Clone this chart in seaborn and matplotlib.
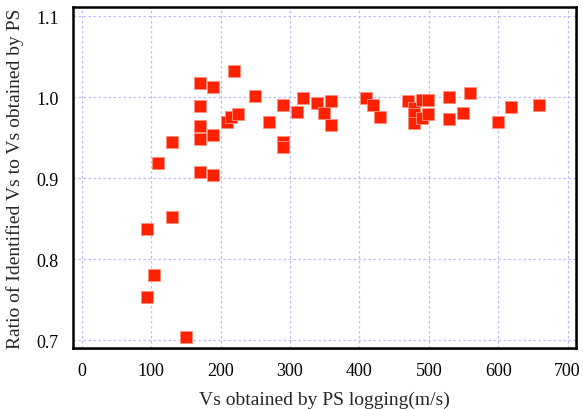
import matplotlib
matplotlib.use("Agg")
import matplotlib.pyplot as plt
import seaborn as sns
import pandas as pd
from matplotlib.patches import Rectangle

vs_ps = [109.5, 129.7, 170, 189.7, 170, 170, 170, 189.7, 170, 189.7,
         220, 209.8, 215.6, 224.8, 249.7, 269.4, 290, 290, 290, 309.8,
         319.3, 339, 349, 359.7, 359.7, 409.7, 419.3, 429.8, 469.7, 479.3,
         479.3, 479.3, 489.9, 499.4, 489.9, 499.4, 529.3, 529.3, 549, 559.5,
         599.4, 619, 659.4, 129.7, 94.5, 104.6, 93.7, 149.9]
ratio = [0.919, 0.945, 1.017, 1.012, 0.989, 0.964, 0.948, 0.953, 0.907, 0.904,
         1.032, 0.969, 0.976, 0.979, 1.001, 0.969, 0.990, 0.945, 0.938, 0.982,
         0.999, 0.993, 0.980, 0.995, 0.966, 0.999, 0.990, 0.976, 0.995, 0.986,
         0.979, 0.968, 0.996, 0.996, 0.974, 0.979, 1.000, 0.973, 0.980, 1.005,
         0.969, 0.988, 0.990, 0.852, 0.837, 0.781, 0.753, 0.704]

x_ticks = [0, 100, 200, 300, 400, 500, 600, 700]
y_ticks = [0.7, 0.8, 0.9, 1.0, 1.1]
y_tick_labels = ["0.7", "0.8", "0.9", "1.0", "1.1"]

df = pd.DataFrame({"vs": vs_ps, "ratio": ratio})

sns.set_theme(style="white")
plt.rcParams['font.family'] = ['Liberation Serif', 'DejaVu Serif']

fig = plt.figure(figsize=(5.83, 4.10), dpi=100)
ax = fig.add_axes([0.1247, 0.148, 0.8633, 0.832])

sns.scatterplot(data=df, x="vs", y="ratio", ax=ax, marker="s", s=78,
                color="#ff2200", edgecolor="#ff9080", linewidth=0.6, zorder=3)

ax.set_xlim(-13, 712)
ax.set_ylim(0.690, 1.111)
ax.set_xticks(x_ticks)
ax.set_yticks(y_ticks)
ax.set_yticklabels(y_tick_labels)
ax.grid(True, color="#bcbcff", linestyle=(0, (2, 2)), linewidth=0.9, zorder=0)
ax.set_axisbelow(True)
ax.tick_params(axis="both", length=0, labelsize=13, colors="black", pad=10)
ax.set_xlabel("Vs obtained by PS logging(m/s)", fontsize=14, labelpad=8)
ax.set_ylabel("Ratio of Identified Vs to Vs obtained by PS", fontsize=14, labelpad=9)
for sp in ax.spines.values():
    sp.set_visible(True)
    sp.set_color("black")
    sp.set_linewidth(1.8)

# drop shadow behind frame
shadow = Rectangle((0.1247 + 0.004, 0.148 - 0.005), 0.8633, 0.832,
                   transform=fig.transFigure, facecolor="#999999",
                   edgecolor="none", zorder=-1)
fig.patches.append(shadow)
ax.set_facecolor("white")

fig.savefig("out.png", dpi=100)
